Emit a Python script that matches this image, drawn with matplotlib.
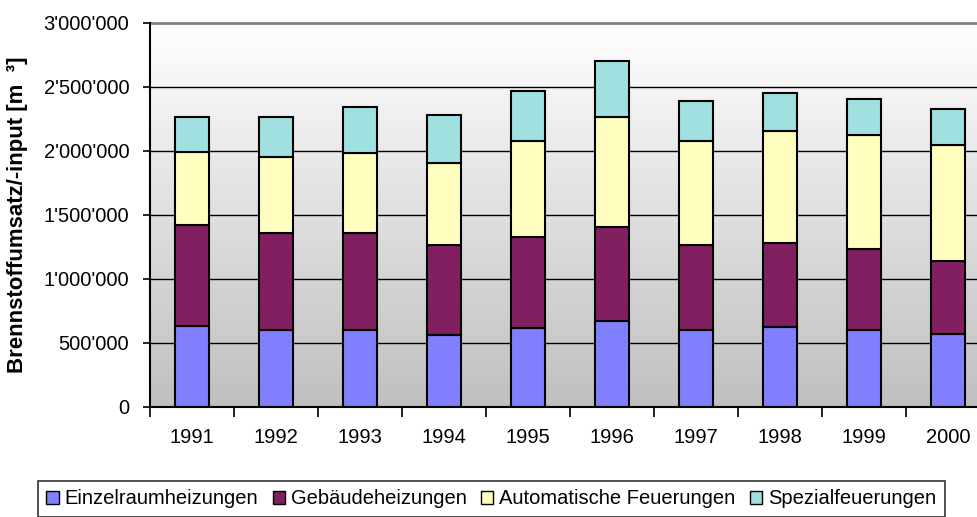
import matplotlib
matplotlib.use("Agg")
import matplotlib.pyplot as plt
import numpy as np
from matplotlib.ticker import FuncFormatter, FixedLocator
from matplotlib.patches import Patch

plt.rcParams['font.family'] = ['Liberation Sans', 'DejaVu Sans']

years = ['1991', '1992', '1993', '1994', '1995', '1996', '1997', '1998', '1999', '2000']
einzelraum = [635000, 604000, 604000, 560000, 617000, 669000, 604000, 622000, 604000, 573000]
gebaeude = [784000, 755000, 755000, 703000, 711000, 734000, 659000, 656000, 633000, 565000]
automatisch = [576000, 594000, 625000, 643000, 750000, 863000, 815000, 878000, 885000, 909000]
spezial = [271000, 313000, 360000, 375000, 391000, 437000, 313000, 297000, 284000, 281000]

series = [
    ('Einzelraumheizungen', einzelraum, '#8080ff'),
    ('Gebäudeheizungen', gebaeude, '#802060'),
    ('Automatische Feuerungen', automatisch, '#ffffc0'),
    ('Spezialfeuerungen', spezial, '#a0e0e0'),
]

W, H = 978, 517
fig = plt.figure(figsize=(W / 100, H / 100), dpi=100)
left, right, top, bottom = 150, 990, 23, 407
ax = fig.add_axes([left / W, 1 - bottom / H, (right - left) / W, (bottom - top) / H])

# gradient background
grad = np.linspace(1.0, 0.0, 256).reshape(-1, 1)
top_c = np.array([1.0, 1.0, 1.0])
bot_c = np.array([0.75, 0.75, 0.75])
img = (grad[..., None] * top_c + (1 - grad[..., None]) * bot_c)
ax.imshow(img, extent=[0, 1, 0, 1], transform=ax.transAxes, aspect='auto', zorder=0)

x = np.arange(len(years))
ax.set_xlim(-0.5, len(years) - 0.5)
ax.set_ylim(0, 3000000)

# gridlines
for v in [500000, 1000000, 1500000, 2000000, 2500000]:
    ax.axhline(v, color='black', lw=1.0, zorder=1)
ax.axhline(3000000, color='#808080', lw=2.0, zorder=1, clip_on=False)

bottoms = np.zeros(len(years))
handles = []
for name, vals, col in series:
    ax.bar(x, vals, width=0.4, bottom=bottoms, color=col, edgecolor='black', linewidth=1.5, zorder=3)
    bottoms += np.array(vals)
    handles.append(Patch(facecolor=col, edgecolor='black', linewidth=1.0, label=name))

for s in ['top', 'right']:
    ax.spines[s].set_visible(False)
ax.spines['left'].set_linewidth(1.5)
ax.spines['bottom'].set_linewidth(1.5)
ax.spines['left'].set_zorder(4)
ax.spines['bottom'].set_zorder(4)

FS = 14.5
ax.yaxis.set_major_locator(FixedLocator(np.arange(0, 3000001, 500000)))
ax.yaxis.set_major_formatter(FuncFormatter(lambda v, p: f"{int(v):,}".replace(',', "'")))
ax.tick_params(axis='y', direction='out', length=5, width=1.2, labelsize=FS, pad=10)

ax.set_xticks(np.arange(-0.5, len(years), 1.0))
ax.set_xticklabels([])
ax.set_xticks(x, minor=True)
ax.set_xticklabels(years, minor=True)
ax.tick_params(axis='x', which='major', direction='out', length=7, width=1.2)
ax.tick_params(axis='x', which='minor', length=0, labelsize=FS, pad=15)

fig.text(18 / W, 1 - 215 / H, 'Brennstoffumsatz/-input [m  ³]', rotation=90,
         fontsize=16, fontweight='bold', ha='center', va='center')

leg = fig.legend(handles=handles, loc='upper left', bbox_to_anchor=(38 / W, 1 - 481 / H),
                 ncol=4, fontsize=FS, frameon=True, fancybox=False, shadow=False,
                 handlelength=0.6, handleheight=0.6, handletextpad=0.3, columnspacing=0.72,
                 borderpad=0.42, borderaxespad=0)
leg.get_frame().set_edgecolor('black')
leg.get_frame().set_linewidth(1.2)

fig.savefig('out.png', dpi=100)
